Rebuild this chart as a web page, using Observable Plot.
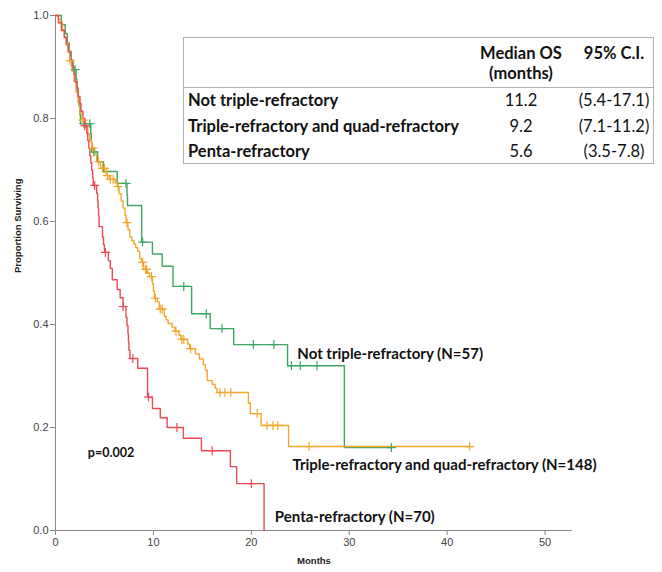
<!DOCTYPE html>
<html>
<head>
<meta charset="utf-8">
<script src="https://cdn.jsdelivr.net/npm/d3@7"></script>
<script src="https://cdn.jsdelivr.net/npm/@observablehq/plot@0.6"></script>
<style>
  html, body { margin: 0; padding: 0; background: #fff; }
  #wrap { position: relative; width: 662px; height: 572px; overflow: hidden; }
  #table { position: absolute; left: 183px; top: 37px; width: 469px; height: 125px;
           border: 1px solid #b0b0b0; background: #fff; font-family: Lato, "Open Sans", sans-serif;
           font-size: 16.5px; color: #111; }
  #table div { position: absolute; white-space: nowrap; line-height: 1; }
  .b { font-weight: bold; }
  .c { transform: translate(-50%, -50%); }
  .l { transform: translate(0, -50%); }
</style>
</head>
<body>
<div id="wrap"><div id="chart"></div><div id="table"></div></div>
<script>
// ---- Data ----
const series = ["Not triple-refractory", "Triple-refractory and quad-refractory", "Penta-refractory"];
const colors = ["#3ea663", "#f4a72e", "#ec4a55"];

// [months, survival after the step]
const notTripleSteps = [[0,1],[0.6,0.982],[1.0,0.965],[1.2,0.947],[1.4,0.930],[1.6,0.912],[1.8,0.895],
  [2.1,0.877],[2.2,0.860],[2.3,0.842],[2.4,0.825],[2.5,0.807],[2.55,0.790],[3.6,0.772],[3.65,0.754],
  [3.7,0.735],[4.3,0.716],[4.9,0.697],[6.3,0.674],[7.3,0.652],[7.35,0.631],[8.8,0.560],[9.9,0.537],
  [10.9,0.513],[12.0,0.474],[13.9,0.421],[15.8,0.392],[18.2,0.361],[23.7,0.320],[29.5,0.161]];
const notTripleCensors = [2.0, 2.9, 3.5, 3.9, 7.2, 8.9, 13.1, 15.4, 17.0, 20.2, 22.3, 24.1, 25.0, 26.7, 34.3];
const notTripleEnd = 34.3;

const tripleQuadSteps = [[0,1],[0.3,0.993],[0.5,0.986],[0.7,0.973],[0.9,0.959],[1.1,0.946],[1.3,0.932],
  [1.5,0.912],[1.7,0.892],[1.9,0.872],[2.1,0.851],[2.3,0.831],[2.5,0.811],[2.7,0.797],[3.0,0.784],
  [3.3,0.770],[3.5,0.757],[3.7,0.743],[4.0,0.730],[4.2,0.716],[4.6,0.703],[5.2,0.689],[5.5,0.682],
  [6.1,0.675],[6.3,0.668],[6.5,0.654],[6.7,0.640],[6.9,0.626],[7.1,0.612],[7.2,0.598],[7.4,0.584],
  [7.6,0.570],[7.8,0.563],[8.0,0.556],[8.2,0.549],[8.4,0.542],[8.6,0.528],[8.8,0.521],[9.0,0.507],
  [9.4,0.500],[9.6,0.493],[9.9,0.479],[10.0,0.465],[10.1,0.451],[10.4,0.444],[10.6,0.430],[11.1,0.416],
  [11.3,0.409],[11.5,0.402],[11.9,0.395],[12.2,0.387],[12.6,0.379],[12.8,0.371],[13.5,0.362],
  [13.7,0.353],[14.3,0.343],[14.7,0.333],[15.1,0.322],[15.3,0.311],[15.5,0.291],[16.0,0.284],
  [16.3,0.276],[16.5,0.268],[19.7,0.247],[19.9,0.227],[21.0,0.204],[23.8,0.163]];
const tripleQuadCensors = [1.5, 2.8, 3.8, 4.4, 4.8, 5.0, 5.3, 5.6, 5.9, 6.4, 7.3, 8.9, 9.2, 9.3, 9.8, 10.2,
  10.7, 10.9, 12.3, 12.9, 13.1, 13.8, 16.8, 17.3, 17.9, 20.6, 21.6, 22.2, 22.7, 25.9, 42.3];
const tripleQuadEnd = 42.3;

const pentaSteps = [[0,1],[0.3,0.986],[0.6,0.971],[0.9,0.957],[1.1,0.943],[1.3,0.929],[1.5,0.914],
  [1.7,0.900],[1.9,0.886],[2.0,0.871],[2.2,0.857],[2.3,0.843],[2.5,0.829],[2.6,0.814],[2.8,0.800],
  [3.0,0.786],[3.2,0.771],[3.3,0.757],[3.4,0.742],[3.5,0.728],[3.6,0.714],[3.7,0.699],[3.8,0.685],
  [3.85,0.670],[4.2,0.655],[4.3,0.640],[4.35,0.626],[4.4,0.611],[4.45,0.590],[4.8,0.570],[4.9,0.555],
  [5.0,0.540],[5.4,0.524],[5.6,0.509],[5.8,0.487],[6.3,0.468],[6.6,0.452],[6.9,0.435],[7.2,0.414],
  [7.3,0.398],[7.4,0.382],[7.45,0.366],[7.5,0.350],[7.6,0.334],[8.4,0.315],[9.4,0.259],[9.9,0.237],
  [10.7,0.219],[11.4,0.200],[13.06,0.179],[14.9,0.155],[17.86,0.124],[18.5,0.091],[21.3,0.0]];
const pentaCensors = [3.0, 4.0, 5.1, 6.9, 7.9, 9.5, 12.4, 16.0, 20.0];
const pentaEnd = 21.3;

const labels = [
  {text: "Not triple-refractory (N=57)", t: 24.7, s: 0.342},
  {text: "Triple-refractory and quad-refractory (N=148)", t: 24.2, s: 0.126},
  {text: "Penta-refractory (N=70)", t: 22.4, s: 0.025}
];
const pLabel = {text: "p=0.002", t: 3.3, s: 0.150};

const tableHeader = ["Median OS", "(months)", "95% C.I."];
const medianOS = ["11.2", "9.2", "5.6"];
const ci = ["(5.4-17.1)", "(7.1-11.2)", "(3.5-7.8)"];
const xTicks = [0, 10, 20, 30, 40, 50];
const yTicks = [0, 0.2, 0.4, 0.6, 0.8, 1.0];

// ---- Build tables ----
const stepsAll = [notTripleSteps, tripleQuadSteps, pentaSteps];
const censorsAll = [notTripleCensors, tripleQuadCensors, pentaCensors];
const ends = [notTripleEnd, tripleQuadEnd, pentaEnd];
function survAt(steps, t) {
  let s = 1;
  for (const [tt, ss] of steps) { if (tt <= t) s = ss; }
  return s;
}
const lineData = [], censorData = [];
stepsAll.forEach((steps, i) => {
  steps.forEach(([t, s]) => lineData.push({g: series[i], t, s}));
  const last = steps[steps.length - 1];
  if (ends[i] > last[0]) lineData.push({g: series[i], t: ends[i], s: last[1]});
  censorsAll[i].forEach(t => censorData.push({g: series[i], t, s: survAt(steps, t)}));
});

const font = "'Liberation Sans', Arial, sans-serif";
const labelFont = "Lato, 'Open Sans', sans-serif";
const chart = Plot.plot({
  width: 662, height: 572,
  marginLeft: 55, marginRight: 90, marginTop: 15, marginBottom: 42,
  style: {fontFamily: font, background: "#fff", color: "#444"},
  x: {domain: [0, 52.8]},
  y: {domain: [0, 1]},
  color: {domain: series, range: colors},
  marks: [
    Plot.axisX({ticks: xTicks, tickSize: 5, tickPadding: 3, fontSize: 11, label: null, stroke: "#888"}),
    Plot.axisY({ticks: yTicks, tickFormat: d3.format(".1f"), tickSize: 5, tickPadding: 2, fontSize: 11, label: null, stroke: "#888"}),
    Plot.ruleX([0], {stroke: "#8a8a8a"}),
    Plot.ruleY([0], {stroke: "#8a8a8a"}),
    Plot.text(["Proportion Surviving"], {frameAnchor: "left", dx: -38, rotate: -90, fontWeight: "bold", fontSize: 9.5, fill: "#222"}),
    Plot.text(["Months"], {frameAnchor: "bottom", dy: 33, fontWeight: "bold", fontSize: 9.5, fill: "#222"}),
    Plot.line(lineData, {x: "t", y: "s", z: "g", stroke: "g", curve: "step-after", strokeWidth: 1.4}),
    Plot.dot(censorData, {x: "t", y: "s", stroke: "g", symbol: "plus", r: 3, strokeWidth: 1.2}),
    Plot.text(labels, {x: "t", y: "s", text: "text", textAnchor: "start", fontWeight: "bold", fontSize: 15,
      fontFamily: labelFont, fill: "#111"}),
    Plot.text([pLabel], {x: "t", y: "s", text: "text", textAnchor: "start", fontWeight: "bold", fontSize: 12.5,
      fontFamily: labelFont, fill: "#111"})
  ]
});
document.getElementById("chart").appendChild(chart);

// ---- Table overlay ----
const tbl = document.getElementById("table");
function add(text, x, y, cls) {
  const d = document.createElement("div");
  d.textContent = text; d.className = cls;
  d.style.left = x + "px"; d.style.top = y + "px";
  tbl.appendChild(d);
}
add(tableHeader[0], 337, 15, "b c");
add(tableHeader[1], 337, 35, "b c");
add(tableHeader[2], 430, 15, "b c");
const rule = document.createElement("div");
rule.style.cssText = "left:0;top:49px;width:469px;height:0;border-top:1px solid #b0b0b0;";
tbl.appendChild(rule);
series.forEach((name, i) => {
  const y = 62 + i * 25.5;
  add(name, 4, y, "b l");
  add(medianOS[i], 337, y, "c");
  add(ci[i], 430, y, "c");
});
</script>
</body>
</html>
